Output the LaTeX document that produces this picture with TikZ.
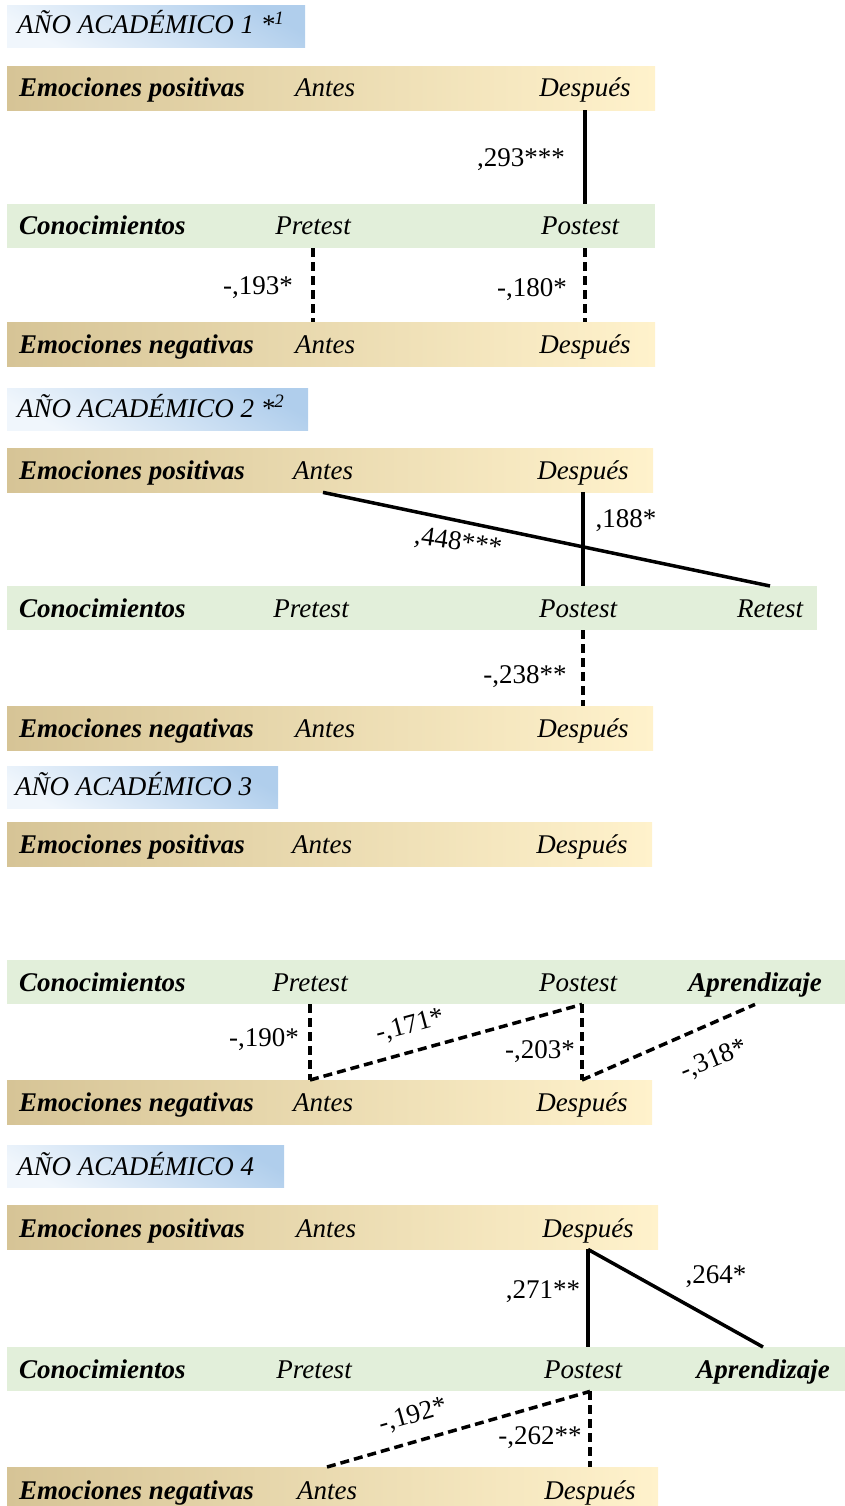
\documentclass[tikz,border=0pt]{standalone}
\usepackage{fontspec}
\setmainfont{Liberation Serif}

\definecolor{tanL}{RGB}{214,196,150}
\definecolor{tanR}{RGB}{255,242,204}
\definecolor{sage}{RGB}{226,239,218}
\definecolor{skyL}{RGB}{240,246,252}
\definecolor{skyR}{RGB}{176,206,236}

\tikzset{
  warm/.style={anchor=north west, inner sep=0pt, minimum height=44pt, left color=tanL, right color=tanR},
  cool/.style={anchor=north west, inner sep=0pt, minimum height=44pt, fill=sage},
  yearbox/.style={anchor=north west, inner sep=0pt, minimum height=42pt, left color=skyL, right color=skyR, shading angle=150},
  yeartext/.style={anchor=base west, inner sep=0pt, font=\fontsize{27}{30}\selectfont\itshape},
  rowname/.style={anchor=base west, inner sep=0pt, font=\fontsize{27}{30}\selectfont\bfseries\itshape},
  lbl/.style={anchor=base, inner sep=0pt, font=\fontsize{27}{30}\selectfont\itshape},
  coef/.style={inner sep=0pt, font=\fontsize{27}{30}\selectfont},
  poscor/.style={line width=3.5pt},
  negcor/.style={line width=3.5pt, dash pattern=on 9pt off 5pt},
}

\begin{document}
\begin{tikzpicture}[x=1pt,y=-1pt]

    \clip (0,0) rectangle (845,1506);

    % year 1
    \node[yearbox, minimum width=298pt] (h1) at (7,5) {};
    \node[yeartext] (h1t) at (17,34) {AÑO ACADÉMICO 1 *\textsuperscript{1}};

    \node[warm, minimum width=648pt] (p1) at (7,66) {};
    \node[rowname] (p1n) at (19,97) {Emociones positivas};
    \node[lbl] (p1a) at (325,97) {Antes};
    \node[lbl] (p1d) at (585,97) {Después};

    \node[cool, minimum width=648pt] (c1) at (7,204) {};
    \node[rowname] (c1n) at (19,235) {Conocimientos};
    \node[lbl] (c1r) at (313,235) {Pretest};
    \node[lbl] (c1p) at (580,235) {Postest};

    \node[warm, minimum width=648pt] (n1) at (7,322) {};
    \node[rowname] (n1n) at (19,353) {Emociones negativas};
    \node[lbl] (n1a) at (325,353) {Antes};
    \node[lbl] (n1d) at (585,353) {Después};

    \draw[poscor] (p1d |- p1.south) -- (p1d |- c1.north);
    \node[coef] (k11) at (521,160) {,293***};
    \draw[negcor] (c1r |- c1.south) -- (c1r |- n1.north);
    \node[coef] (k12) at (258,288) {-,193*};
    \draw[negcor] (n1d |- c1.south) -- (n1d |- n1.north);
    \node[coef] (k13) at (532,290) {-,180*};

    % year 2
    \node[yearbox, minimum width=301pt] (h2) at (7,388) {};
    \node[yeartext] (h2t) at (17,417) {AÑO ACADÉMICO 2 *\textsuperscript{2}};

    \node[warm, minimum width=646pt] (p2) at (7,448) {};
    \node[rowname] (p2n) at (19,479) {Emociones positivas};
    \node[lbl] (p2a) at (323,479) {Antes};
    \node[lbl] (p2d) at (583,479) {Después};

    \node[cool, minimum width=810pt] (c2) at (7,586) {};
    \node[rowname] (c2n) at (19,617) {Conocimientos};
    \node[lbl] (c2r) at (311,617) {Pretest};
    \node[lbl] (c2p) at (578,617) {Postest};
    \node[lbl] (c2t) at (770,617) {Retest};

    \node[warm, minimum width=646pt] (n2) at (7,706) {};
    \node[rowname] (n2n) at (19,737) {Emociones negativas};
    \node[lbl] (n2a) at (325,737) {Antes};
    \node[lbl] (n2d) at (583,737) {Después};

    \draw[poscor] (p2a |- p2.south) -- (c2t |- c2.north);
    \node[coef, rotate=-8] (k21) at (458,543) {,448***};
    \draw[poscor] (p2d |- p2.south) -- (p2d |- c2.north);
    \node[coef] (k22) at (626,521) {,188*};
    \draw[negcor] (n2d |- c2.south) -- (n2d |- n2.north);
    \node[coef] (k23) at (525,677) {-,238**};

    % year 3
    \node[yearbox, minimum width=271pt] (h3) at (7,766) {};
    \node[yeartext] (h3t) at (15,795) {AÑO ACADÉMICO 3};

    \node[warm, minimum width=645pt] (p3) at (7,822) {};
    \node[rowname] (p3n) at (19,853) {Emociones positivas};
    \node[lbl] (p3a) at (322,853) {Antes};
    \node[lbl] (p3d) at (582,853) {Después};

    \node[cool, minimum width=838pt] (c3) at (7,960) {};
    \node[rowname] (c3n) at (19,991) {Conocimientos};
    \node[lbl] (c3r) at (310,991) {Pretest};
    \node[lbl] (c3p) at (578,991) {Postest};
    \node[lbl, font=\fontsize{27}{30}\selectfont\bfseries\itshape] (c3l) at (755,991) {Aprendizaje};

    \node[warm, minimum width=645pt] (n3) at (7,1080) {};
    \node[rowname] (n3n) at (19,1111) {Emociones negativas};
    \node[lbl] (n3a) at (323,1111) {Antes};
    \node[lbl] (n3d) at (582,1111) {Después};

    \draw[negcor] (c3r |- c3.south) -- (c3r |- n3.north);
    \node[coef] (k31) at (264,1040) {-,190*};
    \draw[negcor] (c3r |- n3.north) -- (n3d |- c3.south);
    \node[coef, rotate=15] (k32) at (410,1026) {-,171*};
    \draw[negcor] (n3d |- c3.south) -- (n3d |- n3.north);
    \node[coef] (k33) at (540,1052) {-,203*};
    \draw[negcor] (n3d |- n3.north) -- (c3l |- c3.south);
    \node[coef, rotate=22] (k34) at (714,1060) {-,318*};

    % year 4
    \node[yearbox, minimum width=277pt] (h4) at (7,1145) {};
    \node[yeartext] (h4t) at (17,1175) {AÑO ACADÉMICO 4};

    \node[warm, minimum width=651pt] (p4) at (7,1205) {};
    \node[rowname] (p4n) at (19,1237) {Emociones positivas};
    \node[lbl] (p4a) at (326,1237) {Antes};
    \node[lbl] (p4d) at (588,1237) {Después};

    \node[cool, minimum width=838pt] (c4) at (7,1347) {};
    \node[rowname] (c4n) at (19,1378) {Conocimientos};
    \node[lbl] (c4r) at (314,1378) {Pretest};
    \node[lbl] (c4p) at (583,1378) {Postest};
    \node[lbl, font=\fontsize{27}{30}\selectfont\bfseries\itshape] (c4l) at (763,1378) {Aprendizaje};

    \node[warm, minimum width=651pt] (n4) at (7,1467) {};
    \node[rowname] (n4n) at (19,1499) {Emociones negativas};
    \node[lbl] (n4a) at (327,1499) {Antes};
    \node[lbl] (n4d) at (590,1499) {Después};

    \draw[poscor] (p4d |- p4.south) -- (p4d |- c4.north);
    \node[coef] (k41) at (543,1292) {,271**};
    \draw[poscor] (p4d |- p4.south) -- (c4l |- c4.north);
    \node[coef] (k42) at (716,1277) {,264*};
    \draw[negcor] (n4a |- n4.north) -- (n4d |- c4.south);
    \node[coef, rotate=16] (k43) at (413,1416) {-,192*};
    \draw[negcor] (n4d |- c4.south) -- (n4d |- n4.north);
    \node[coef] (k44) at (540,1438) {-,262**};

\end{tikzpicture}
\end{document}
